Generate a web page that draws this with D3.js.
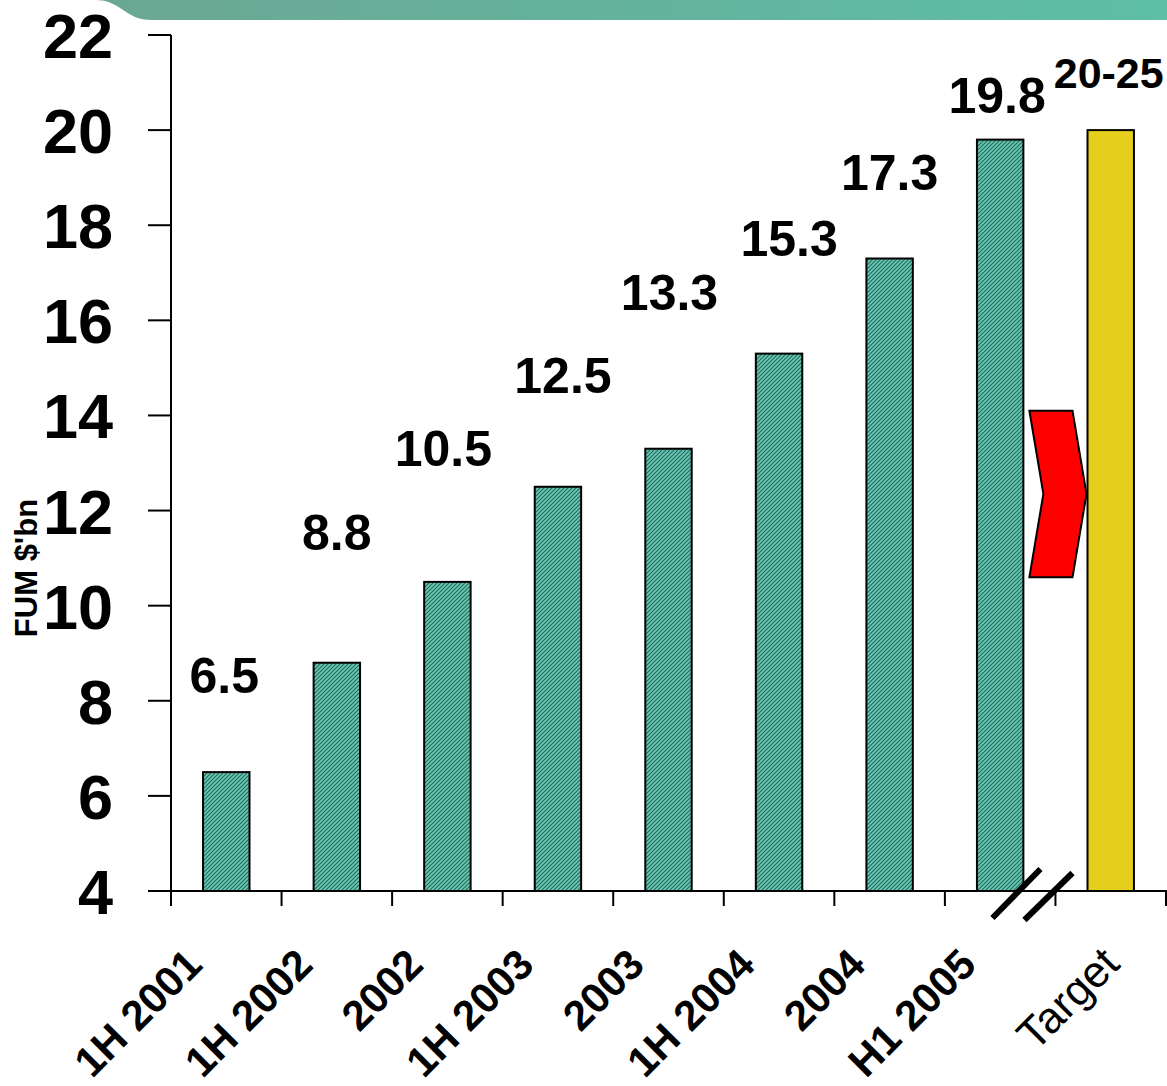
<!DOCTYPE html>
<html>
<head>
<meta charset="utf-8">
<script src="https://cdn.jsdelivr.net/npm/d3@7/dist/d3.min.js"></script>
<style>
  html, body { margin: 0; padding: 0; background: #fff; }
  svg { display: block; font-family: 'Liberation Sans', Arial, sans-serif; }
</style>
</head>
<body>
<div id="chart"></div>
<script>
// data
const categories = ['1H 2001', '1H 2002', '2002', '1H 2003', '2003', '1H 2004', '2004', 'H1 2005', 'Target']
const values = [6.5, 8.8, 10.5, 12.5, 13.3, 15.3, 17.3, 19.8, 20]
const valueLabels = ['6.5', '8.8', '10.5', '12.5', '13.3', '15.3', '17.3', '19.8', '20-25']
const yTicks = [4, 6, 8, 10, 12, 14, 16, 18, 20, 22]
// where each value label sits (in FUM units) - the labels float irregularly above the bars
const labelLevel = [8.16, 11.17, 12.94, 14.47, 16.22, 17.35, 18.74, 20.36, 20.89]
const labelDx = [-2, 0, -4, 5, 1, 10, 0, -3, -2]
const arrowRange = [10.6, 14.1]

const width = 1167
const height = 1086

const svg = d3.select('#chart').append('svg')
  .attr('width', width)
  .attr('height', height)

const defs = svg.append('defs')

// hatched teal fill
const pat = defs.append('pattern')
  .attr('id', 'hatch')
  .attr('patternUnits', 'userSpaceOnUse')
  .attr('width', 4)
  .attr('height', 4)
pat.append('rect').attr('width', 4).attr('height', 4).attr('fill', '#6acab6')
pat.append('path')
  .attr('d', 'M-1,1 l2,-2 M0,4 l4,-4 M3,5 l2,-2')
  .attr('stroke', '#256b5f')
  .attr('stroke-width', 1.2)

// banner gradient
const grad = defs.append('linearGradient').attr('id', 'banner')
grad.append('stop').attr('offset', '0%').attr('stop-color', '#6ba793')
grad.append('stop').attr('offset', '100%').attr('stop-color', '#5dbfa6')

// top banner strip
svg.append('path')
  .attr('d', 'M95,0 C122,0 124,20 152,20 L1167,20 L1167,0 Z')
  .attr('fill', 'url(#banner)')

const x = d3.scaleBand()
  .domain(categories)
  .range([171, 1166])
  .padding(0)

const y = d3.scaleLinear()
  .domain([4, 22])
  .range([891, 35])

const barW = x.bandwidth() * 0.42

// bars
svg.append('g')
  .selectAll('rect')
  .data(categories)
  .join('rect')
  .attr('x', (d, i) => x(d) + x.bandwidth() / 2 - barW / 2)
  .attr('y', (d, i) => y(values[i]))
  .attr('width', barW)
  .attr('height', (d, i) => y(4) - y(values[i]))
  .attr('fill', d => d === 'Target' ? '#e6cf1c' : 'url(#hatch)')
  .attr('stroke', '#000')
  .attr('stroke-width', 2)

// y axis
const yAxis = svg.append('g')
yAxis.append('line')
  .attr('x1', 171).attr('x2', 171)
  .attr('y1', y(22)).attr('y2', y(4))
  .attr('stroke', '#000').attr('stroke-width', 2)
yAxis.selectAll('.tick')
  .data(yTicks)
  .join('line')
  .attr('x1', 148).attr('x2', 171)
  .attr('y1', d => y(d)).attr('y2', d => y(d))
  .attr('stroke', '#000').attr('stroke-width', 2)
yAxis.selectAll('text')
  .data(yTicks)
  .join('text')
  .attr('x', 113)
  .attr('y', d => y(d) + 23)
  .attr('text-anchor', 'end')
  .attr('font-size', 63)
  .attr('font-weight', 'bold')
  .text(d => d)

// x axis
const xAxis = svg.append('g')
xAxis.append('line')
  .attr('x1', 171).attr('x2', width)
  .attr('y1', y(4)).attr('y2', y(4))
  .attr('stroke', '#000').attr('stroke-width', 2)
xAxis.selectAll('.tick')
  .data(categories.concat(['end']))
  .join('line')
  .attr('x1', (d, i) => i < categories.length ? x(d) : x.range()[1])
  .attr('x2', (d, i) => i < categories.length ? x(d) : x.range()[1])
  .attr('y1', y(4)).attr('y2', y(4) + 15)
  .attr('stroke', '#000').attr('stroke-width', 2)
xAxis.selectAll('text')
  .data(categories)
  .join('text')
  .attr('transform', d => {
    const cx = x(d) + x.bandwidth() / 2
    return d === 'Target'
      ? `translate(${cx + 11},${966}) rotate(-45)`
      : `translate(${cx - 22},${967}) rotate(-45)`
  })
  .attr('text-anchor', 'end')
  .attr('font-size', d => d === 'Target' ? 44 : 42)
  .attr('font-weight', d => d === 'Target' ? 'normal' : 'bold')
  .text(d => d)

// axis break marks between last actual and target
const bx = x('Target')
svg.append('g')
  .selectAll('line')
  .data([-39, -7])
  .join('line')
  .attr('x1', d => bx + d - 24).attr('y1', d => y(4) + 27 + (d === -7 ? 2 : 0))
  .attr('x2', d => bx + d + 24).attr('y2', d => y(4) - 22 + (d === -7 ? 4 : 0))
  .attr('stroke', '#000').attr('stroke-width', 6)

// red chevron arrow pointing at target
const aLeft = x('H1 2005') + x.bandwidth() / 2 + barW / 2 + 6
const aTip = x('Target') + x.bandwidth() / 2 - barW / 2 - 1
const aTop = y(arrowRange[1])
const aBot = y(arrowRange[0])
const aMid = (aTop + aBot) / 2
const arrowPts = [
  [aLeft, aTop], [aTip - 14, aTop], [aTip, aMid],
  [aTip - 14, aBot], [aLeft, aBot], [aLeft + 14, aMid]
]
svg.append('path')
  .attr('d', d3.line()(arrowPts) + 'Z')
  .attr('fill', '#ff0000')
  .attr('stroke', '#000')
  .attr('stroke-width', 2)
  .attr('stroke-linejoin', 'miter')

// value labels
svg.append('g')
  .selectAll('text')
  .data(categories)
  .join('text')
  .attr('x', (d, i) => x(d) + x.bandwidth() / 2 + labelDx[i])
  .attr('y', (d, i) => y(labelLevel[i]))
  .attr('text-anchor', 'middle')
  .attr('font-size', d => d === 'Target' ? 43 : 50)
  .attr('font-weight', 'bold')
  .text((d, i) => valueLabels[i])

// y axis title
svg.append('text')
  .attr('transform', 'translate(37,568) rotate(-90)')
  .attr('text-anchor', 'middle')
  .attr('font-size', 31)
  .attr('font-weight', 'bold')
  .text("FUM $'bn")
</script>
</body>
</html>
